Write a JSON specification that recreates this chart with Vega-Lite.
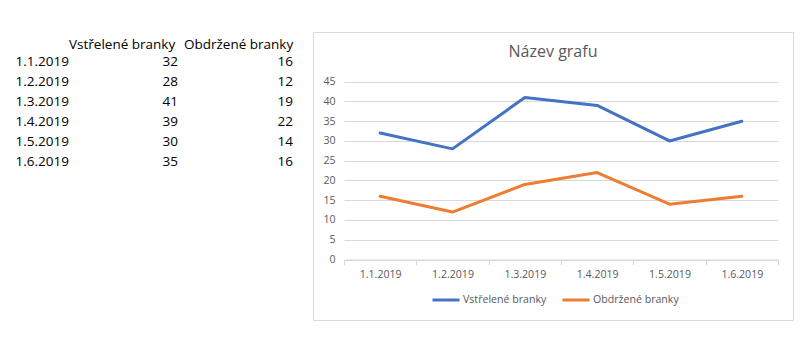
{
  "$schema": "https://vega.github.io/schema/vega-lite/v6.json",
  "background": "white",
  "padding": {"left": 15, "top": 31, "right": 0, "bottom": 0},
  "bounds": "flush",
  "spacing": 18,
  "config": {"view": {"stroke": null}, "font": "Open Sans"},
  "data": {
    "values": [
      {"datum": "1.1.2019", "Vstřelené branky": 32, "Obdržené branky": 16},
      {"datum": "1.2.2019", "Vstřelené branky": 28, "Obdržené branky": 12},
      {"datum": "1.3.2019", "Vstřelené branky": 41, "Obdržené branky": 19},
      {"datum": "1.4.2019", "Vstřelené branky": 39, "Obdržené branky": 22},
      {"datum": "1.5.2019", "Vstřelené branky": 30, "Obdržené branky": 14},
      {"datum": "1.6.2019", "Vstřelené branky": 35, "Obdržené branky": 16}
    ]
  },
  "transform": [{"fold": ["Vstřelené branky", "Obdržené branky"], "as": ["serie", "pocet"]}],
  "hconcat": [
    {
      "width": 230,
      "height": 159.6,
      "mark": {"type": "text", "align": "right", "baseline": "middle", "dx": -2, "fontSize": 13.5, "color": "black"},
      "encoding": {
        "x": {
          "field": "serie", "type": "nominal",
          "sort": ["Vstřelené branky", "Obdržené branky"],
          "bandPosition": 1,
          "scale": {"type": "band", "paddingInner": 0, "paddingOuter": 0},
          "axis": {"orient": "top", "title": null, "domain": false, "ticks": false, "tickSize": 0, "grid": false,
                   "labelPadding": 10.5, "labelBaseline": "middle", "labelAlign": "left",
                   "labelOffset": -53.5, "offset": -22.8, "labelFontSize": 13.5, "labelColor": "black", "labelAngle": 0}
        },
        "y": {
          "field": "datum", "type": "nominal", "sort": null,
          "scale": {"type": "band", "paddingInner": 0, "paddingOuter": 1.2},
          "axis": {"title": null, "domain": false, "ticks": false, "tickSize": 0, "grid": false,
                   "labelPadding": 50, "labelAlign": "left", "labelFontSize": 13.5, "labelColor": "black"}
        },
        "text": {"field": "pocet", "type": "quantitative"}
      }
    },
    {
      "width": 480,
      "height": 288,
      "view": {"stroke": "#d9d9d9"},
      "title": {"text": "Název grafu", "fontSize": 16, "fontWeight": "normal", "color": "#595959", "offset": -35.6, "baseline": "middle", "anchor": "middle", "font": "Open Sans"},
      "mark": {"type": "line", "strokeWidth": 3, "strokeJoin": "round", "strokeCap": "round"},
      "encoding": {
        "x": {
          "field": "datum", "type": "nominal", "sort": null, "bandPosition": 0.5,
          "scale": {"type": "band", "range": [31, 465], "paddingInner": 0, "paddingOuter": 0},
          "axis": {"title": null, "offset": -60.5, "tickBand": "extent", "labelAngle": 0,
                   "domainColor": "#d9d9d9", "tickColor": "#d9d9d9", "tickSize": 5, "labelPadding": 5,
                   "labelFontSize": 10.6, "labelColor": "#595959", "grid": false}
        },
        "y": {
          "field": "pocet", "type": "quantitative",
          "scale": {"domain": [0, 45], "range": [227.5, 49.7], "nice": false},
          "axis": {"title": null, "values": [0, 5, 10, 15, 20, 25, 30, 35, 40, 45], "offset": -24, "domain": false,
                   "ticks": false, "tickSize": 0, "labelPadding": 2, "gridColor": "#d9d9d9",
                   "labelFontSize": 10.6, "labelColor": "#595959"}
        },
        "color": {
          "field": "serie", "type": "nominal",
          "scale": {"domain": ["Vstřelené branky", "Obdržené branky"], "range": ["#4472C4", "#ED7D31"]},
          "legend": {"title": null, "orient": "none", "legendX": 366, "legendY": 253, "direction": "horizontal",
                     "symbolType": "stroke", "symbolSize": 729, "symbolStrokeWidth": 3, "labelFontSize": 10.6,
                     "labelColor": "#595959", "columnPadding": 9, "labelOffset": 2}
        }
      }
    }
  ]
}
